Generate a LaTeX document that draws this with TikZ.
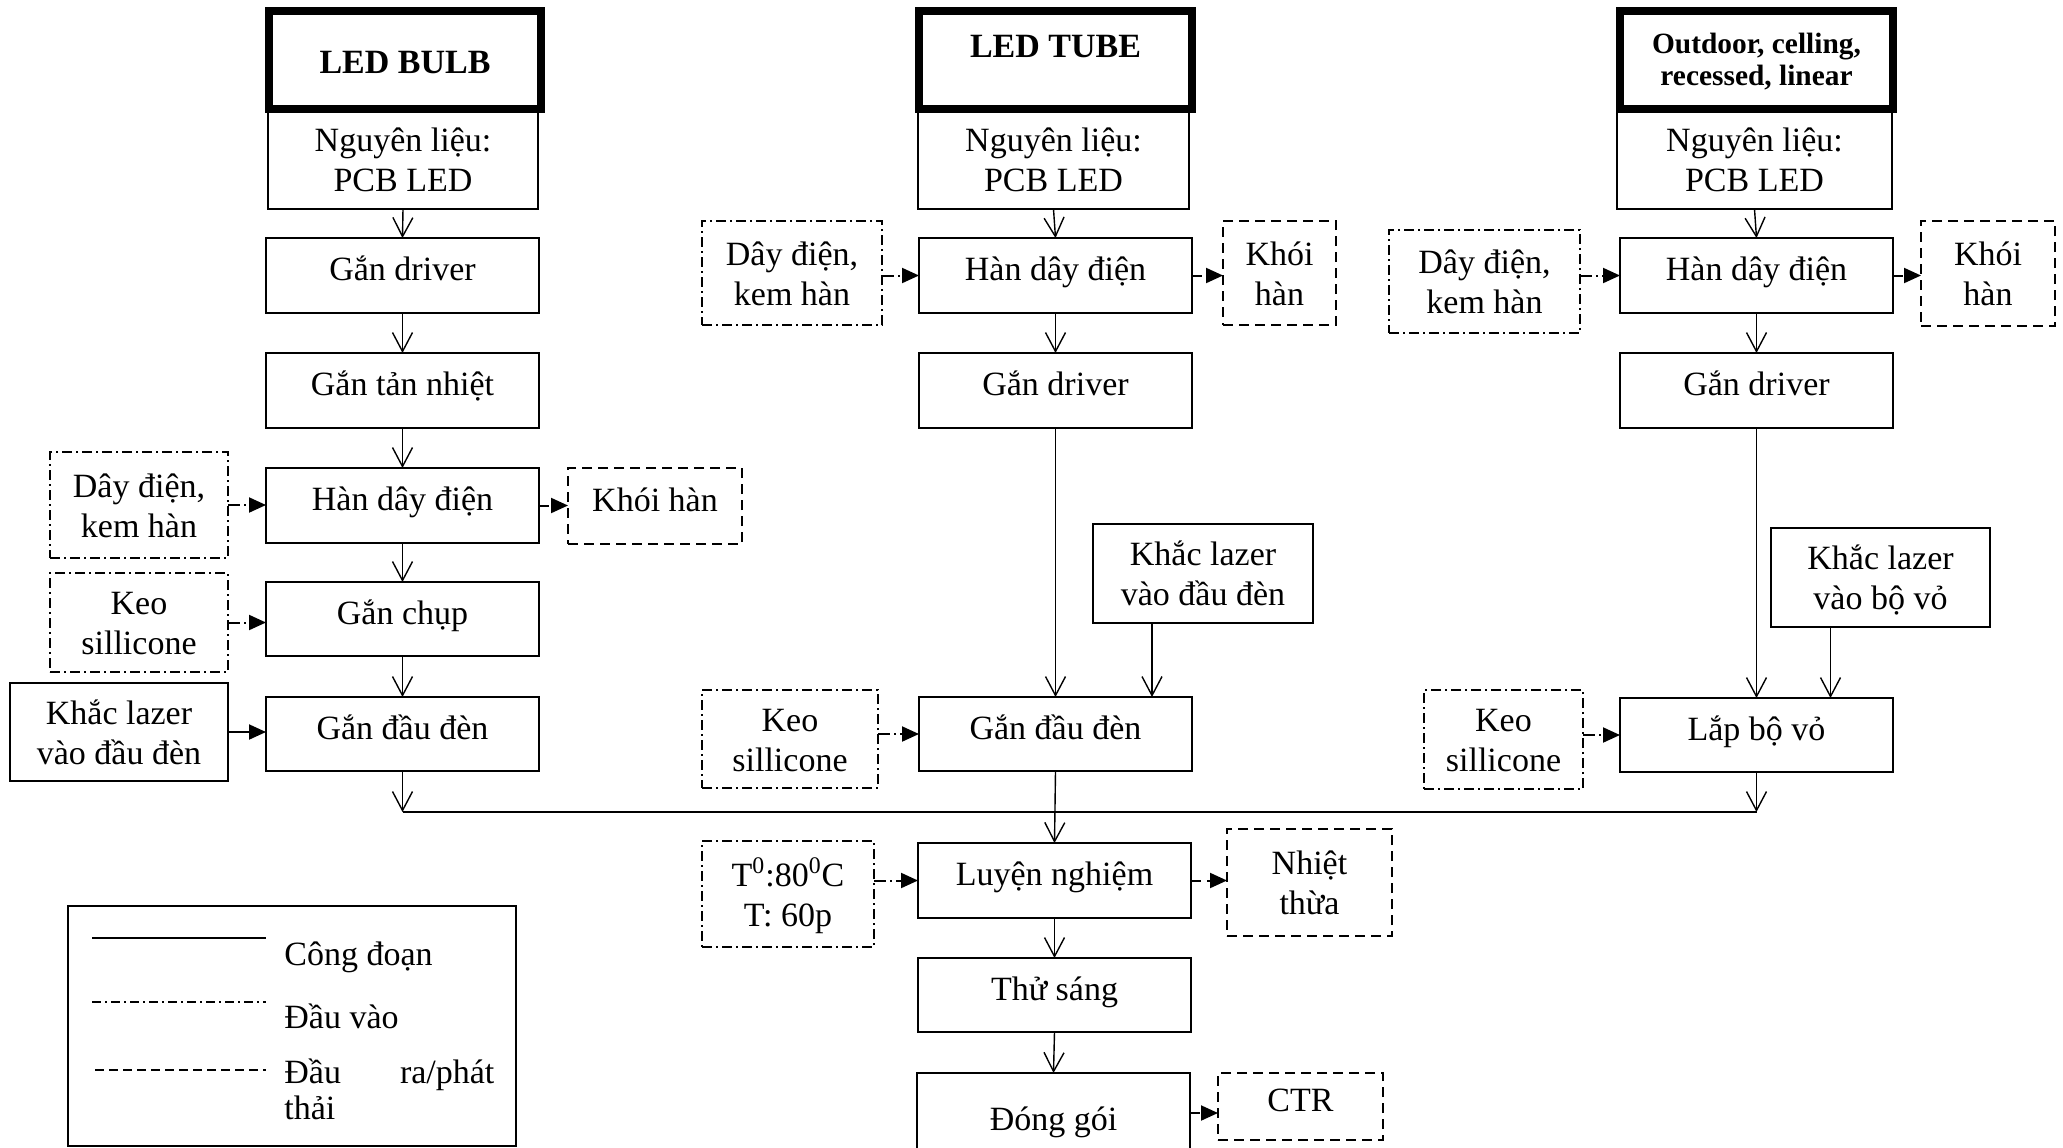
\documentclass[tikz,border=0pt]{standalone}
\usepackage{fontspec}
\setmainfont{Liberation Serif}
\usetikzlibrary{arrows.meta}

% box from corner (x1,y1) to (x2,y2), coordinates in px with y pointing down
\newcommand{\placebox}[7]{%
  \pgfmathsetmacro{\bxw}{(#5-#3)*0.5}%
  \pgfmathsetmacro{\bxh}{(#6-#4)*0.5}%
  \node[#1, minimum width=\bxw pt, minimum height=\bxh pt] (#2) at ({(#3+#5)/2},{(#4+#6)/2}) {#7};}
% line strut for two-line labels (20pt line pitch)
\newcommand{\lnstrut}{\rule[-4pt]{0pt}{20pt}}
\newcommand{\hdstrut}{\rule[-3.5pt]{0pt}{16pt}}

\tikzset{
  base/.style={rectangle, draw, line width=0.7pt, inner sep=0pt, outer sep=0pt,
    align=center, font=\fontsize{17}{20}\selectfont},
  proc/.style={base},
  inbox/.style={base, dash pattern=on 5pt off 2pt on 1pt off 2pt},
  outbox/.style={base, dash pattern=on 5pt off 3pt},
  head/.style={base, line width=3.75pt, font=\fontsize{17}{20}\selectfont\bfseries},
  headsm/.style={base, line width=3.75pt, font=\fontsize{14.7}{16}\selectfont\bfseries},
  one/.style={text height=10.5pt, text depth=5.5pt},
  flow/.style={line width=0.7pt, -{Straight Barb[length=9.5pt,width=10pt]}},
  feed/.style={line width=1pt, dash pattern=on 6pt off 2pt on 1pt off 2pt,
    -{Triangle[length=8.5pt,width=7.5pt]}},
  emit/.style={line width=1pt, dash pattern=on 5pt off 3pt,
    -{Triangle[length=8.5pt,width=7.5pt]}},
  bus/.style={line width=1pt},
  legtext/.style={anchor=west, inner sep=0pt, font=\fontsize{17}{20}\selectfont, one},
}

\begin{document}
\begin{tikzpicture}[x=0.5pt, y=-0.5pt]
\clip (0,0) rectangle (2063,1147);
\fill[white] (0,0) rectangle (2063,1147);

% ---------- LED BULB ----------
\placebox{proc}{nlA}{268}{109}{538}{209}{\lnstrut Nguyên liệu:\\\lnstrut PCB LED}
\placebox{head, text height=14pt, text depth=1pt}{hdA}{269}{11}{541}{109}{LED BULB}
\placebox{proc,one}{a1}{266}{238}{539}{313}{Gắn driver}
\placebox{proc,one}{a2}{266}{353}{539}{428}{Gắn tản nhiệt}
\placebox{proc,one}{a3}{266}{468}{539}{543}{Hàn dây điện}
\placebox{proc,one}{a4}{266}{582}{539}{656}{Gắn chụp}
\placebox{proc,one}{a5}{266}{697}{539}{771}{Gắn đầu đèn}
\placebox{inbox}{ia1}{50}{452}{228}{558}{\lnstrut Dây điện,\\\lnstrut kem hàn}
\placebox{outbox,one}{oa1}{568}{468}{742}{544}{Khói hàn}
\placebox{inbox}{ia2}{50}{573}{228}{672}{\lnstrut Keo\\\lnstrut sillicone}
\placebox{proc}{la}{10}{683}{228}{781}{\lnstrut Khắc lazer\\\lnstrut vào đầu đèn}

% ---------- LED TUBE ----------
\placebox{proc}{nlB}{918}{109}{1189}{209}{\lnstrut Nguyên liệu:\\\lnstrut PCB LED}
\placebox{head, text height=7pt, text depth=10pt}{hdB}{919}{11}{1192}{109}{LED TUBE}
\placebox{proc,one}{b1}{919}{238}{1192}{313}{Hàn dây điện}
\placebox{inbox}{ib1}{702}{221}{882}{325}{\lnstrut Dây điện,\\\lnstrut kem hàn}
\placebox{outbox}{ob1}{1223}{221}{1336}{325}{\lnstrut Khói\\\lnstrut hàn}
\placebox{proc,one}{b2}{919}{353}{1192}{428}{Gắn driver}
\placebox{proc}{lb}{1093}{524}{1313}{623}{\lnstrut Khắc lazer\\\lnstrut vào đầu đèn}
\placebox{proc,one}{b3}{919}{697}{1192}{771}{Gắn đầu đèn}
\placebox{inbox}{ib2}{702}{690}{878}{788}{\lnstrut Keo\\\lnstrut sillicone}

% ---------- common final steps ----------
\placebox{proc,one}{c1}{918}{843}{1191}{918}{Luyện nghiệm}
\placebox{inbox}{ic1}{702}{841}{874}{947}{\lnstrut T\textsuperscript{0}:80\textsuperscript{0}C\\\lnstrut T: 60p}
\placebox{outbox}{oc1}{1227}{829}{1392}{936}{\lnstrut Nhiệt\\\lnstrut thừa}
\placebox{proc,one}{c2}{918}{958}{1191}{1032}{Thử sáng}
\placebox{proc,one}{c3}{917}{1073}{1190}{1177}{Đóng gói}
\placebox{outbox,one}{oc3}{1218}{1073}{1383}{1140}{CTR}

% ---------- Outdoor / celling / recessed / linear ----------
\placebox{proc}{nlC}{1617}{109}{1892}{209}{\lnstrut Nguyên liệu:\\\lnstrut PCB LED}
\placebox{headsm}{hdC}{1620}{11}{1893}{109}{\hdstrut Outdoor, celling,\\\hdstrut recessed, linear}
\placebox{proc,one}{r1}{1620}{238}{1893}{313}{Hàn dây điện}
\placebox{inbox}{ir1}{1389}{230}{1580}{333}{\lnstrut Dây điện,\\\lnstrut kem hàn}
\placebox{outbox}{or1}{1921}{221}{2055}{326}{\lnstrut Khói\\\lnstrut hàn}
\placebox{proc,one}{r2}{1620}{353}{1893}{428}{Gắn driver}
\placebox{proc}{lr}{1771}{528}{1990}{627}{\lnstrut Khắc lazer\\\lnstrut vào bộ vỏ}
\placebox{proc,one}{r3}{1620}{698}{1893}{772}{Lắp bộ vỏ}
\placebox{inbox}{ir2}{1424}{690}{1583}{789}{\lnstrut Keo\\\lnstrut sillicone}

% ---------- main flow ----------
\draw[flow] (nlA.south) -- (a1.north);
\draw[flow] (a1.south) -- (a2.north);
\draw[flow] (a2.south) -- (a3.north);
\draw[flow] (a3.south) -- (a4.north);
\draw[flow] (a4.south) -- (a5.north);

\draw[flow] (nlB.south) -- (b1.north);
\draw[flow] (b1.south) -- (b2.north);
\draw[flow] (b2.south) -- (b3.north);
\draw[flow] ([xshift=48.25pt]b3.north |- lb.south) -- ([xshift=48.25pt]b3.north);

\draw[flow] (nlC.south) -- (r1.north);
\draw[flow] (r1.south) -- (r2.north);
\draw[flow] (r2.south) -- (r3.north);
\draw[flow] ([xshift=37pt]r3.north |- lr.south) -- ([xshift=37pt]r3.north);

\coordinate (busY) at (0,812);
\draw[flow] (a5.south) -- (a5.south |- busY);
\draw[flow] (r3.south) -- (r3.south |- busY);
\draw[bus] (a5.south |- busY) -- (r3.south |- busY);
\draw[flow] (b3.south) -- (c1.north);
\draw[flow] (c1.south) -- (c2.north);
\draw[flow] (c2.south) -- (c3.north);

% ---------- inputs ----------
\draw[feed] (ia1.east) -- (ia1.east -| a3.west);
\draw[feed] (ia2.east) -- (ia2.east -| a4.west);
\draw[-{Triangle[length=8.5pt,width=7.5pt]}, line width=1pt] (la.east) -- (la.east -| a5.west);
\draw[feed] (ib1.east |- b1.west) -- (b1.west);
\draw[feed] (ib2.east |- b3.west) -- (b3.west);
\draw[feed] (ic1.east |- c1.west) -- (c1.west);
\draw[feed] (ir1.east |- r1.west) -- (r1.west);
\draw[feed] (ir2.east |- r3.west) -- (r3.west);

% ---------- outputs ----------
\draw[emit] (a3.east) -- (a3.east -| oa1.west);
\draw[emit] (b1.east) -- (b1.east -| ob1.west);
\draw[emit] (r1.east) -- (r1.east -| or1.west);
\draw[emit] (c1.east) -- (c1.east -| oc1.west);
\draw[emit] ([yshift=-3.25pt]oc3.west -| c3.east) -- ([yshift=-3.25pt]oc3.west);

% ---------- legend ----------
\placebox{proc}{legend}{68}{906}{516}{1146}{}
\draw[line width=1pt] (92,938) -- (266,938);
\draw[line width=0.8pt, dash pattern=on 4.5pt off 2pt on 1pt off 2pt] (92,1002) -- (266,1002);
\draw[line width=0.8pt, dash pattern=on 4.5pt off 2.5pt] (95,1070) -- (266,1070);
\node[legtext] (lg1) at (284,960) {Công đoạn};
\node[legtext] (lg2) at (284,1023) {Đầu vào};
\node[anchor=west, inner sep=0pt, text width=105pt, align=left,
      font=\fontsize{17}{18}\selectfont] (lg3) at (284,1094)
      {\strut Đầu \hfill ra/phát\\\strut thải};
\end{tikzpicture}
\end{document}
